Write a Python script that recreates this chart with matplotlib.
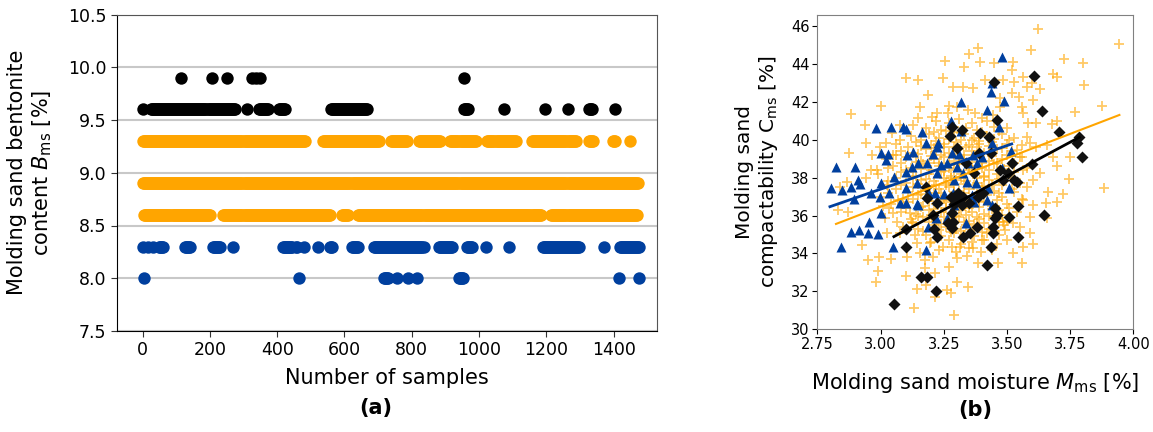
import numpy as np
import matplotlib
matplotlib.use("Agg")
import matplotlib.pyplot as plt

# ---------------- panel (a): bentonite content per sample ----------------
# runs of consecutive samples (start, end), per level
black_99_runs = [(115, 115), (206, 206), (251, 251), (326, 326), (338, 338), (350, 350), (956, 956)]
black_96_runs = [(0, 0), (25, 275), (310, 310), (345, 372), (405, 425), (560, 668), (956, 968),
                 (1075, 1075), (1195, 1195), (1265, 1265), (1328, 1338), (1405, 1405)]
orange_93_runs = [(0, 485), (536, 705), (738, 788), (822, 885), (915, 992), (1025, 1110),
                  (1158, 1287), (1328, 1342), (1398, 1406), (1449, 1449)]
orange_89_runs = [(0, 1475)]
orange_86_runs = [(5, 200), (240, 560), (592, 612), (640, 1185), (1215, 1470)]
blue_83_runs = [(2, 2), (15, 15), (32, 32), (50, 62), (125, 140), (208, 230), (270, 270),
                (418, 445), (455, 460), (480, 480), (522, 522), (557, 565), (622, 640),
                (688, 835), (882, 922), (965, 980), (1020, 1020), (1090, 1090),
                (1190, 1300), (1372, 1372), (1418, 1475)]
blue_80_runs = [(5, 5), (466, 466), (718, 732), (757, 757), (790, 790), (815, 815),
                (940, 952), (1415, 1415), (1475, 1475)]

levels_a = [
    (9.9, black_99_runs, "black"),
    (9.6, black_96_runs, "black"),
    (9.3, orange_93_runs, "orange"),
    (8.9, orange_89_runs, "orange"),
    (8.6, orange_86_runs, "orange"),
    (8.3, blue_83_runs, "#003f9e"),
    (8.0, blue_80_runs, "#003f9e"),
]

# ---------------- panel (b): compactability vs moisture ----------------
blue_pts = [
    (3.479, 44.35), (3.440, 42.98), (3.436, 42.54), (3.488, 42.04), (3.420, 41.57), (3.318, 42.01),
    (3.470, 40.69), (3.279, 41.01), (3.318, 40.48), (3.442, 39.81), (3.516, 39.42), (3.163, 40.43),
    (2.981, 40.60), (3.040, 40.69), (3.088, 40.69), (3.101, 40.55), (3.229, 39.85), (3.180, 39.81),
    (3.000, 39.32), (3.030, 39.25), (3.022, 38.93), (3.222, 39.64), (3.208, 39.25), (3.150, 38.76),
    (3.183, 38.76), (2.824, 38.58), (2.899, 38.58), (2.912, 37.88), (2.919, 37.67), (2.882, 37.53),
    (2.846, 37.35), (2.803, 37.44), (2.961, 37.21), (3.000, 37.70), (2.998, 37.00), (3.035, 37.17),
    (3.055, 38.05), (3.101, 38.32), (3.077, 36.65), (3.101, 36.65), (3.101, 37.44), (3.150, 36.56),
    (3.189, 37.26), (3.222, 38.23), (3.238, 38.67), (3.265, 38.76), (3.281, 39.28), (3.310, 39.23),
    (3.301, 38.58), (3.328, 38.23), (3.347, 38.76), (3.367, 39.20), (3.380, 38.79), (3.400, 39.11),
    (3.341, 37.79), (3.291, 37.88), (3.378, 37.70), (3.360, 37.09), (3.288, 37.17), (3.252, 37.14),
    (3.291, 36.56), (3.215, 37.17), (3.222, 36.82), (3.219, 35.85), (3.262, 35.85), (3.189, 35.42),
    (3.338, 35.59), (3.371, 36.73), (3.426, 37.44), (3.422, 36.82), (3.442, 36.56), (3.479, 38.49),
    (3.508, 37.44), (2.954, 35.68), (2.951, 35.06), (2.916, 35.24), (2.882, 35.12), (2.991, 35.03),
    (2.842, 34.33), (3.051, 34.33), (3.180, 34.18), (2.896, 36.89), (3.000, 36.12), (3.143, 37.74),
    (3.103, 39.20), (3.130, 39.37), (3.126, 38.58), (3.146, 36.61),
]
black_pts = [
    (3.053, 31.34), (3.159, 32.74), (3.182, 32.74), (3.219, 32.00), (3.101, 34.33), (3.101, 35.27),
    (3.420, 33.39), (3.437, 34.33), (3.545, 34.89), (3.445, 35.06), (3.445, 35.42), (3.453, 35.85),
    (3.459, 36.03), (3.453, 36.38), (3.509, 35.91), (3.545, 36.52), (3.648, 36.03), (3.328, 34.89),
    (3.355, 35.06), (3.380, 35.42), (3.288, 35.68), (3.281, 35.33), (3.268, 35.59), (3.291, 36.61),
    (3.301, 36.82), (3.328, 37.00), (3.321, 36.56), (3.351, 36.65), (3.384, 37.00), (3.405, 37.21),
    (3.371, 38.23), (3.390, 39.28), (3.338, 38.76), (3.301, 39.55), (3.273, 40.20), (3.281, 40.69),
    (3.321, 40.51), (3.392, 40.34), (3.430, 40.16), (3.459, 41.04), (3.450, 43.06), (3.608, 43.36),
    (3.637, 41.53), (3.707, 40.43), (3.786, 40.16), (3.776, 39.85), (3.796, 39.11), (3.598, 38.72),
    (3.519, 38.76), (3.506, 38.23), (3.483, 37.88), (3.529, 37.88), (3.538, 37.79), (3.473, 38.40),
    (3.182, 36.91), (3.180, 37.53), (3.222, 36.65), (3.213, 35.27), (3.222, 34.89), (3.281, 36.12),
    (3.208, 36.03), (3.436, 39.28), (3.305, 37.17), (3.279, 37.00),
]
orange_pts = [
    # sparse outer points
    (3.945, 45.05), (3.624, 45.82), (3.594, 44.73), (3.387, 44.82), (3.726, 44.24), (3.802, 44.03),
    (3.805, 42.89), (3.875, 41.78), (3.255, 44.15), (3.392, 44.08), (3.450, 44.03), (3.331, 43.82),
    (3.351, 44.52), (3.525, 44.12), (3.521, 43.68), (3.562, 43.33), (3.530, 43.06), (3.101, 43.24),
    (3.147, 43.15), (3.189, 42.36), (3.249, 43.24), (3.288, 42.80), (3.328, 42.80), (3.367, 42.71),
    (3.414, 43.15), (3.486, 43.15), (3.598, 43.01), (3.683, 43.47), (3.697, 43.33), (3.631, 42.66),
    (3.581, 42.76), (3.000, 41.78), (2.939, 40.78), (2.882, 41.36), (2.942, 39.81), (2.877, 39.28),
    (2.840, 37.53), (2.833, 36.29), (2.873, 36.21), (2.925, 34.45), (2.952, 33.66), (2.991, 33.09),
    (2.982, 32.51), (2.995, 33.83), (3.024, 35.10), (3.040, 33.69), (3.101, 32.81), (3.132, 31.11),
    (3.145, 32.11), (3.176, 33.66), (3.176, 33.22), (3.180, 32.34), (3.216, 32.95), (3.216, 31.72),
    (3.262, 32.07), (3.272, 33.31), (3.277, 31.90), (3.291, 30.76), (3.301, 32.51), (3.341, 33.87),
    (3.347, 32.22), (3.301, 33.74), (3.387, 33.48), (3.466, 33.48), (3.558, 33.48), (3.525, 34.01),
    (3.565, 34.36), (3.591, 35.06), (3.604, 34.48), (3.657, 35.85), (3.664, 37.26), (3.655, 36.65),
    (3.697, 36.72), (3.723, 37.12), (3.747, 37.93), (3.697, 38.63), (3.749, 39.11), (3.683, 39.11),
    (3.884, 37.44), (3.769, 41.48), (3.697, 41.01), (3.677, 40.83), (3.615, 40.87), (3.615, 39.64),
    (3.657, 39.72), (3.591, 39.81), (3.578, 40.16), (3.585, 40.87), (3.565, 41.39), (3.558, 41.74),
    (3.549, 42.27), (3.603, 42.10), (3.519, 42.45), (3.473, 42.18), (3.473, 41.74), (3.446, 41.31),
    (3.400, 41.13), (3.375, 41.39), (3.347, 41.57), (3.301, 41.71), (3.272, 41.78), (3.268, 41.39),
    (3.222, 41.39), (3.203, 41.18), (3.156, 41.74), (3.150, 41.13), (3.127, 40.78), (3.077, 40.78),
    (3.044, 40.34), (3.022, 39.81), (3.077, 39.99), (2.998, 39.64), (2.965, 39.20), (3.051, 39.20),
    (3.031, 38.49), (2.987, 38.40), (2.962, 38.40), (2.942, 37.96), (2.866, 37.79), (3.024, 37.61),
    (3.035, 36.38), (3.008, 36.51), (3.018, 35.85), (3.064, 35.68), (3.048, 36.12), (3.117, 36.12),
    (3.124, 35.68), (3.077, 35.06), (3.136, 34.98), (3.143, 34.54), (3.103, 33.83), (3.156, 34.01),
    (3.196, 34.57), (3.209, 33.83), (3.249, 34.36), (3.281, 34.36), (3.314, 34.36), (3.367, 34.27),
    (3.400, 34.71), (3.397, 34.10), (3.499, 34.71), (3.492, 35.24), (3.486, 35.68), (3.525, 35.59),
    (3.552, 35.42), (3.591, 35.94), (3.604, 36.56), (3.565, 36.82), (3.578, 37.53), (3.604, 37.88),
    (3.631, 38.23), (3.562, 38.40), (3.558, 39.11), (3.538, 39.46),
    # dense core
    (3.22, 41.0), (3.27, 40.9), (3.31, 41.1), (3.36, 40.9), (3.42, 41.0),
    (3.18, 40.6), (3.24, 40.5), (3.29, 40.7), (3.34, 40.6), (3.38, 40.5), (3.45, 40.7), (3.50, 40.6),
    (3.12, 40.2), (3.19, 40.3), (3.23, 40.1), (3.28, 40.2), (3.33, 40.3), (3.37, 40.1), (3.42, 40.2),
    (3.48, 40.3), (3.53, 40.1),
    (3.06, 39.8), (3.14, 39.9), (3.20, 39.7), (3.25, 39.8), (3.30, 39.9), (3.35, 39.7), (3.39, 39.8),
    (3.44, 39.9), (3.50, 39.8), (3.56, 39.7),
    (3.08, 39.4), (3.13, 39.3), (3.18, 39.5), (3.22, 39.4), (3.27, 39.3), (3.31, 39.5), (3.36, 39.4),
    (3.41, 39.3), (3.46, 39.5), (3.52, 39.4),
    (3.02, 39.0), (3.10, 39.1), (3.16, 38.9), (3.21, 39.0), (3.25, 39.1), (3.29, 38.9), (3.33, 39.0),
    (3.38, 39.1), (3.43, 38.9), (3.48, 39.0), (3.55, 39.1),
    (3.05, 38.6), (3.12, 38.5), (3.17, 38.7), (3.23, 38.6), (3.27, 38.5), (3.31, 38.7), (3.35, 38.6),
    (3.40, 38.5), (3.45, 38.7), (3.51, 38.6), (3.58, 38.5),
    (2.99, 38.2), (3.08, 38.3), (3.14, 38.1), (3.19, 38.2), (3.24, 38.3), (3.28, 38.1), (3.32, 38.2),
    (3.36, 38.3), (3.41, 38.1), (3.46, 38.2), (3.53, 38.3),
    (3.03, 37.8), (3.10, 37.7), (3.16, 37.9), (3.21, 37.8), (3.26, 37.7), (3.30, 37.9), (3.34, 37.8),
    (3.38, 37.7), (3.43, 37.9), (3.49, 37.8), (3.55, 37.7),
    (3.06, 37.4), (3.13, 37.5), (3.18, 37.3), (3.23, 37.4), (3.27, 37.5), (3.31, 37.3), (3.35, 37.4),
    (3.40, 37.5), (3.45, 37.3), (3.52, 37.4),
    (3.00, 37.0), (3.09, 36.9), (3.15, 37.1), (3.20, 37.0), (3.25, 36.9), (3.29, 37.1), (3.33, 37.0),
    (3.37, 36.9), (3.42, 37.1), (3.48, 37.0), (3.56, 36.9),
    (3.04, 36.6), (3.11, 36.7), (3.17, 36.5), (3.22, 36.6), (3.26, 36.7), (3.30, 36.5), (3.34, 36.6),
    (3.39, 36.7), (3.44, 36.5), (3.50, 36.6),
    (3.08, 36.2), (3.14, 36.1), (3.19, 36.3), (3.24, 36.2), (3.28, 36.1), (3.32, 36.3), (3.36, 36.2),
    (3.41, 36.1), (3.47, 36.3), (3.54, 36.2),
    (3.12, 35.8), (3.17, 35.9), (3.22, 35.7), (3.27, 35.8), (3.31, 35.9), (3.35, 35.7), (3.39, 35.8),
    (3.45, 35.9), (3.50, 35.7),
    (3.09, 35.4), (3.15, 35.3), (3.21, 35.5), (3.26, 35.4), (3.30, 35.3), (3.34, 35.5), (3.38, 35.4),
    (3.43, 35.3), (3.49, 35.5),
    (3.18, 35.0), (3.24, 34.9), (3.29, 35.1), (3.33, 35.0), (3.37, 34.9), (3.42, 35.1), (3.47, 35.0),
    (3.20, 34.6), (3.27, 34.7), (3.32, 34.5), (3.36, 34.6), (3.41, 34.7), (3.46, 34.5),
    (3.23, 34.2), (3.30, 34.1), (3.35, 34.3), (3.44, 34.2),
    (3.25, 39.6), (3.29, 39.6), (3.33, 39.2), (3.37, 39.2), (3.27, 38.8), (3.31, 38.8), (3.35, 38.4),
    (3.29, 38.4), (3.25, 38.0), (3.32, 38.0), (3.37, 37.6), (3.29, 37.6), (3.24, 37.2), (3.33, 37.2),
    (3.28, 36.8), (3.36, 36.8), (3.31, 36.4), (3.26, 36.4), (3.38, 38.0), (3.22, 37.6), (3.34, 39.6),
    (3.40, 38.8), (3.20, 38.4), (3.44, 37.6), (3.29, 40.4), (3.36, 40.0),
    (3.21, 40.4), (3.26, 40.45), (3.32, 40.35), (3.40, 40.4), (3.47, 40.45),
    (3.16, 40.0), (3.22, 39.95), (3.27, 40.05), (3.32, 40.0), (3.39, 39.95), (3.45, 40.05), (3.51, 40.0),
    (3.11, 39.6), (3.16, 39.65), (3.21, 39.55), (3.38, 39.6), (3.43, 39.65), (3.48, 39.55),
    (3.06, 39.2), (3.15, 39.25), (3.20, 39.15), (3.24, 39.2), (3.29, 39.25), (3.44, 39.15), (3.50, 39.2),
    (3.08, 38.8), (3.14, 38.85), (3.19, 38.75), (3.23, 38.8), (3.36, 38.85), (3.46, 38.75), (3.53, 38.8),
    (3.10, 38.4), (3.16, 38.45), (3.25, 38.35), (3.43, 38.4), (3.49, 38.45),
    (3.06, 38.0), (3.13, 38.05), (3.18, 37.95), (3.28, 38.0), (3.41, 38.05), (3.47, 37.95), (3.52, 38.0),
    (3.08, 37.6), (3.15, 37.65), (3.19, 37.55), (3.26, 37.6), (3.33, 37.65), (3.41, 37.55), (3.48, 37.6),
    (3.03, 37.2), (3.11, 37.25), (3.16, 37.15), (3.21, 37.2), (3.29, 37.25), (3.38, 37.15), (3.47, 37.2),
    (3.53, 37.25),
    (3.07, 36.8), (3.13, 36.85), (3.19, 36.75), (3.24, 36.8), (3.32, 36.85), (3.41, 36.75), (3.46, 36.8),
    (3.10, 36.4), (3.16, 36.45), (3.21, 36.35), (3.35, 36.4), (3.39, 36.45), (3.44, 36.35), (3.51, 36.4),
    (3.15, 36.0), (3.20, 36.05), (3.25, 35.95), (3.30, 36.0), (3.34, 36.05), (3.38, 35.95), (3.43, 36.0),
    (3.48, 36.05),
    (3.13, 35.6), (3.19, 35.65), (3.24, 35.55), (3.29, 35.6), (3.33, 35.65), (3.37, 35.55), (3.41, 35.6),
    (3.47, 35.65),
    (3.17, 35.2), (3.23, 35.25), (3.28, 35.15), (3.32, 35.2), (3.36, 35.25), (3.40, 35.15), (3.45, 35.2),
]
# fitted lines, end points
orange_fit = ([2.824, 3.945], [35.56, 41.31])
blue_fit = ([2.800, 3.519], [36.47, 39.78])
black_fit = ([3.053, 3.786], [34.89, 40.13])

W, H = 1153, 432
fig = plt.figure(figsize=(W / 100, H / 100), dpi=100)

# ---- (a)
ax1 = fig.add_axes([117 / W, (H - 331) / H, (657 - 117) / W, (331 - 14.5) / H])
for level, runs, col in levels_a:
    xs = np.concatenate([np.arange(a, b + 1, 3) for a, b in runs])
    ax1.scatter(xs, np.full(len(xs), level), s=80, color=col, linewidths=0, zorder=3)
ax1.set_xlim(-76, 1529)
ax1.set_ylim(7.5, 10.5)
ax1.set_yticks(np.arange(7.5, 10.51, 0.5))
ax1.set_xticks(np.arange(0, 1401, 200))
ax1.grid(axis="y", color="#c8c8c8", lw=1.5, zorder=0)
ax1.tick_params(labelsize=12.5, length=4, color="#333333")
for side in ["top", "right"]:
    ax1.spines[side].set_color("#555555")
ax1.set_xlabel("Number of samples", fontsize=15, labelpad=6)
ax1.set_ylabel("Molding sand bentonite\ncontent $B_{\\rm ms}$ [%]", fontsize=15, labelpad=10)
fig.text(376 / W, 1 - 408 / H, "(a)", fontsize=15, fontweight="bold", ha="center", va="center")

# ---- (b)
ax2 = fig.add_axes([817.3 / W, (H - 329.3) / H, 316 / W, (329.3 - 14.7) / H])
ox, oy = np.array(orange_pts).T
bx, by = np.array(blue_pts).T
kx, ky = np.array(black_pts).T
ax2.plot(ox, oy, "+", color="orange", alpha=0.6, ms=7.5, mew=1.3, zorder=2)
ax2.plot(bx, by, "^", color="#003f9e", ms=6.5, mec="none", zorder=3)
ax2.plot(kx, ky, "D", color="#111111", ms=6, mec="none", zorder=4)
ax2.plot(*orange_fit, color="orange", lw=1.5, zorder=5)
ax2.plot(*blue_fit, color="#003f9e", lw=2, zorder=5)
ax2.plot(*black_fit, color="black", lw=2, zorder=5)
ax2.set_xlim(2.75, 4.0)
ax2.set_ylim(30, 46.6)
ax2.set_xticks([2.75, 3.0, 3.25, 3.5, 3.75, 4.0])
ax2.set_yticks(np.arange(30, 47, 2))
ax2.tick_params(labelsize=10.5, length=3.5, pad=2)
for s in ax2.spines.values():
    s.set_color("#808080")
ax2.set_xlabel("Molding sand moisture $M_{\\rm ms}$ [%]", fontsize=15, labelpad=14)
ax2.set_ylabel("Molding sand\ncompactability C$_{\\rm ms}$ [%]", fontsize=14.5, labelpad=8)
fig.text(975 / W, 1 - 410 / H, "(b)", fontsize=15, fontweight="bold", ha="center", va="center")

fig.savefig("out.png", dpi=100)
